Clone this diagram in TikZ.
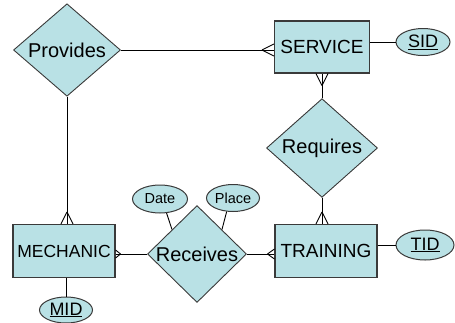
\documentclass[tikz,border=0pt]{standalone}
\usepackage{fontspec}
\setmainfont{Liberation Sans}
\usetikzlibrary{shapes.geometric}
\definecolor{erfill}{HTML}{B9E1E5}
\definecolor{erline}{HTML}{3A3A3A}
% crow's foot: #1 point on the entity edge, #2 direction away from the entity,
% #3 length of the foot, #4 half spread at the edge
\newcommand\crowfoot[4]{%
  \draw[link,shift={(#1)},rotate=#2] (#3,0) -- (0,#4) (#3,0) -- (0,-#4);}
\tikzset{
  entity/.style={draw=erline,fill=erfill,line width=1.1pt,rectangle,inner sep=0pt,
    font=\fontsize{19}{21}\selectfont},
  relation/.style={draw=erline,fill=erfill,line width=0.9pt,diamond,inner sep=0pt,
    font=\fontsize{20}{22}\selectfont},
  attrib/.style={draw=erline,fill=erfill,line width=1pt,ellipse,inner sep=0pt,
    font=\fontsize{18}{20}\selectfont},
  smallattrib/.style={attrib,font=\fontsize{14.5}{16}\selectfont},
  link/.style={draw=black,line width=0.9pt},
}
\begin{document}
\begin{tikzpicture}[x=1pt,y=-1pt]
\useasboundingbox (0,0) rectangle (455,322);

% relationships
\node[relation,minimum width=107pt,minimum height=82pt] (Provides) at (67,50) {Provides};
\node[relation,minimum width=111pt,minimum height=67pt] (Requires) at (322,148) {Requires};
\node[relation,minimum width=99pt,minimum height=82pt] (Receives) at (197,254) {Receives};

% entities
\node[entity,minimum width=95pt,minimum height=52pt] (SERVICE) at (322,47) {SERVICE};
\node[entity,minimum width=102pt,minimum height=53pt,font=\fontsize{17.5}{20}\selectfont]
  (MECHANIC) at (64,251) {MECHANIC};
\node[entity,minimum width=102pt,minimum height=53pt] (TRAINING) at (326,251) {TRAINING};

% attributes
\node[attrib,minimum width=54pt,minimum height=27pt] (SID) at (423,42) {\underline{SID}};
\node[attrib,minimum width=58pt,minimum height=30pt] (TID) at (425,245) {\underline{TID}};
\node[attrib,minimum width=53pt,minimum height=26pt] (MID) at (66,310) {\underline{MID}};
\node[smallattrib,minimum width=55pt,minimum height=28pt] (Date) at (160,199) {Date};
\node[smallattrib,minimum width=53pt,minimum height=27pt] (Place) at (233,198) {Place};

% connectors
\draw[link] (Provides.east) -- (Provides.east -| SERVICE.west) coordinate (cSP);
\draw[link] (Provides.south) -- (Provides.south |- MECHANIC.north) coordinate (cMP);
\draw[link] (Requires.north) -- (Requires.north |- SERVICE.south) coordinate (cSR);
\draw[link] (Requires.south) -- (Requires.south |- TRAINING.north) coordinate (cTR);
\draw[link] (Receives.west) -- (Receives.west -| MECHANIC.east) coordinate (cMR);
\draw[link] (Receives.east) -- (Receives.east -| TRAINING.west) coordinate (cTRc);
\draw[link] (SID.west -| SERVICE.east) -- (SID.west);
\draw[link] (TID.west -| TRAINING.east) -- (TID.west);
\draw[link] (MECHANIC.south -| MID.north) -- (MID.north);
\draw[link] (Date.-65) -- (Receives.north west);
\draw[link] (Place.-115) -- (Receives.north east);

% many-side markers
\crowfoot{cSP}{180}{12}{6}
\crowfoot{cSR}{-90}{12}{6}
\crowfoot{cMP}{90}{12}{6}
\crowfoot{cTR}{90}{12}{6}
\crowfoot{cMR}{0}{5}{4}
\crowfoot{cTRc}{180}{7}{5}
\end{tikzpicture}
\end{document}
